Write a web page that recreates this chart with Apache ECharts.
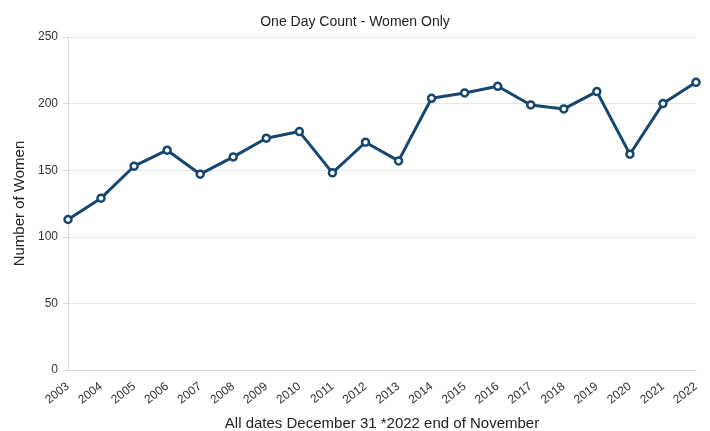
<!DOCTYPE html>
<html>
<head>
<meta charset="utf-8">
<script src="https://cdn.jsdelivr.net/npm/echarts@6/dist/echarts.min.js"></script>
<style>
html,body{margin:0;padding:0;background:#fff;}
#chart{width:710px;height:431px;}
</style>
</head>
<body>
<div id="chart"></div>
<script>
const years = ['2003','2004','2005','2006','2007','2008','2009','2010','2011','2012','2013','2014','2015','2016','2017','2018','2019','2020','2021','2022'];
const women = [113,129,153,165,147,160,174,179,148,171,157,204,208,213,199,196,209,162,200,216];
const yTicks = [0,50,100,150,200,250];

const chart = echarts.init(document.getElementById('chart'));
const font = 'Liberation Sans, Arial, sans-serif';
chart.setOption({
  animation: false,
  textStyle: {fontFamily: font},
  title: {
    text: 'One Day Count - Women Only',
    left: 'center',
    top: 10,
    textStyle: {fontFamily: font, fontSize: 14, fontWeight: 'normal', color: '#222'}
  },
  grid: {left: 68, right: 14, top: 37, bottom: 61, containLabel: false, outerBoundsMode: 'none'},
  xAxis: {
    type: 'category',
    data: years,
    boundaryGap: false,
    name: 'All dates December 31 *2022 end of November',
    nameLocation: 'middle',
    nameGap: 46,
    nameTextStyle: {fontFamily: font, fontSize: 15, color: '#222'},
    axisLine: {show: true, lineStyle: {color: '#d9d9d9'}},
    axisTick: {show: false},
    axisLabel: {rotate: 38, fontSize: 12, color: '#333', margin: 15, fontFamily: font},
    splitLine: {show: false}
  },
  yAxis: {
    type: 'value',
    min: yTicks[0],
    max: yTicks[yTicks.length - 1],
    interval: 50,
    name: 'Number of Women',
    nameLocation: 'middle',
    nameGap: 37,
    nameTextStyle: {fontFamily: font, fontSize: 15, color: '#222'},
    axisLine: {show: true, lineStyle: {color: '#d9d9d9'}},
    axisTick: {show: true, length: 5, lineStyle: {color: '#d9d9d9'}},
    axisLabel: {fontSize: 12, color: '#333', margin: 10, fontFamily: font},
    splitLine: {show: true, lineStyle: {color: '#e6e6e6'}}
  },
  series: [{
    type: 'line',
    data: women,
    symbol: 'circle',
    symbolSize: 7,
    lineStyle: {color: '#17466f', width: 3},
    itemStyle: {color: '#ffffff', borderColor: '#17466f', borderWidth: 2.5}
  }]
});
</script>
</body>
</html>
